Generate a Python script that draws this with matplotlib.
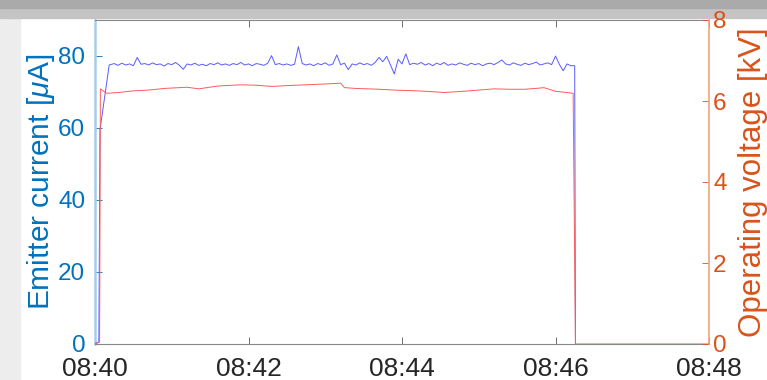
import numpy as np
import matplotlib
matplotlib.use("Agg")
import matplotlib.pyplot as plt
from matplotlib.patches import Rectangle

plt.rcParams['font.family'] = ['Liberation Sans', 'DejaVu Sans']
plt.rcParams['mathtext.fontset'] = 'custom'
plt.rcParams['mathtext.it'] = 'Liberation Sans:italic'
plt.rcParams['mathtext.rm'] = 'Liberation Sans'

# ---- data (minutes after 08:40) ----
xtick_min = [0, 2, 4, 6, 8]
xtick_labels = ["08:40", "08:42", "08:44", "08:46", "08:48"]

cur_start_t = [0.0, 0.05, 0.065, 0.185]
cur_start_v = [0.2, 0.5, 59.5, 77.5]
cur_main_t0 = 0.20
cur_main_dt = 0.05
cur_main_v = [
    77.6, 77.9, 77.4, 78.0, 77.5, 77.8, 77.3, 79.6, 77.7, 77.9,
    77.5, 78.1, 77.6, 77.8, 77.2, 77.9, 77.6, 78.2, 77.4, 76.3,
    77.8, 77.5, 78.0, 77.4, 77.7, 77.3, 77.9, 77.6, 78.1, 77.5,
    77.8, 77.4, 77.9, 77.6, 78.2, 77.5, 77.8, 77.3, 77.9, 77.7,
    77.4, 78.0, 80.1, 77.6, 77.9, 77.5, 77.8, 77.4, 77.7, 82.6,
    77.9, 77.5, 77.8, 77.3, 77.9, 77.6, 78.1, 77.4, 77.8, 80.3,
    77.6, 78.0, 76.2, 77.8, 77.5, 78.1, 77.6, 77.9, 77.4, 78.2,
    79.6, 78.4, 79.9, 77.5, 75.0, 79.1, 77.8, 80.6, 77.6, 78.0,
    77.7, 78.2, 77.5, 77.9, 77.3, 78.0, 77.6, 78.2, 77.4, 77.8,
    77.5, 78.1, 77.7, 77.4, 78.0, 77.6, 77.9, 77.3, 77.8, 78.0,
    77.6, 78.2, 78.9, 77.8, 77.5, 78.1, 77.7, 77.4, 78.0, 77.6,
    77.9, 78.3, 77.5, 77.8, 78.1, 77.6, 80.0, 77.7, 75.9, 77.8,
    77.3,
]
cur_end_t = [6.25, 6.26]
cur_end_v = [77.3, 0.0]

volt_t = [0, 0.06, 0.07, 0.15, 0.3, 0.5, 0.7, 0.9, 1.1, 1.2, 1.35, 1.6, 1.9,
          2.1, 2.3, 2.5, 2.75, 3.0, 3.2, 3.25, 3.4, 3.7, 3.9, 4.2, 4.4, 4.55,
          4.8, 5.0, 5.2, 5.4, 5.6, 5.8, 5.85, 6.0, 6.1, 6.23, 6.26, 8.0]
volt_v = [0, 0.05, 6.30, 6.19, 6.21, 6.25, 6.27, 6.31, 6.33, 6.34, 6.30, 6.37,
          6.40, 6.39, 6.36, 6.38, 6.40, 6.42, 6.44, 6.33, 6.31, 6.29, 6.27,
          6.25, 6.23, 6.21, 6.24, 6.27, 6.30, 6.29, 6.29, 6.32, 6.33, 6.24,
          6.22, 6.19, 0, 0]

cur_t = (cur_start_t
         + [cur_main_t0 + i * cur_main_dt for i in range(len(cur_main_v))]
         + cur_end_t)
cur_v = cur_start_v + cur_main_v + cur_end_v

# ---- figure ----
W, H = 767, 380
fig = plt.figure(figsize=(W / 100, H / 100), dpi=100)
fig.patch.set_facecolor('white')
# screenshot shading around the border
fig.patches.append(Rectangle((0, 0), 20 / W, 1, transform=fig.transFigure,
                             color='#ededed', zorder=-5))
fig.patches.append(Rectangle((0, (H - 18) / H), 1, 18 / H,
                             transform=fig.transFigure, color='#c4c4c4', zorder=-4))
fig.patches.append(Rectangle((0, (H - 8) / H), 1, 8 / H,
                             transform=fig.transFigure, color='#aaaaaa', zorder=-3))

blue = '#0072BD'
orange = '#D95319'

ax = fig.add_axes([95 / W, 36 / H, (709 - 95) / W, (344 - 20) / H])
ax.plot(cur_t, cur_v, color='#5a5aff', lw=0.7, zorder=3)
ax.set_xlim(0, 8)
ax.set_ylim(0, 90)
ax.set_yticks([0, 20, 40, 60, 80])
ax.set_xticks(xtick_min)
ax.set_xticklabels(xtick_labels)
ax.tick_params(axis='x', direction='in', length=5, width=0.6, color='#555555',
               labelsize=19, labelcolor='#262626', pad=9, top=True)
ax.tick_params(axis='y', direction='in', length=5, width=0.6, color=blue,
               labelsize=17.5, labelcolor=blue, pad=7)
ax.set_ylabel(r'Emitter current [$\mu$A]', color=blue, fontsize=21.5, labelpad=1)
ax.spines['left'].set_color('#a6cde8')
ax.spines['left'].set_linewidth(1.8)
ax.spines['top'].set_color('#888888')
ax.spines['bottom'].set_color('#888888')
ax.spines['top'].set_linewidth(0.8)
ax.spines['bottom'].set_linewidth(0.8)
ax.spines['right'].set_visible(False)

ax2 = ax.twinx()
ax2.plot(volt_t, volt_v, color='#ff5a5a', lw=0.7, zorder=4)
ax2.set_ylim(0, 8)
ax2.set_yticks([0, 2, 4, 6, 8])
ax2.tick_params(axis='y', direction='in', length=5, width=0.6, color=orange,
                labelsize=17.5, labelcolor=orange, pad=3)
ax2.set_ylabel('Operating voltage [kV]', color=orange, fontsize=22.5, labelpad=8)
ax2.spines['right'].set_color('#f0a47f')
ax2.spines['right'].set_linewidth(1.2)
for s in ['left', 'top', 'bottom']:
    ax2.spines[s].set_visible(False)

fig.savefig('out.png', dpi=100)
